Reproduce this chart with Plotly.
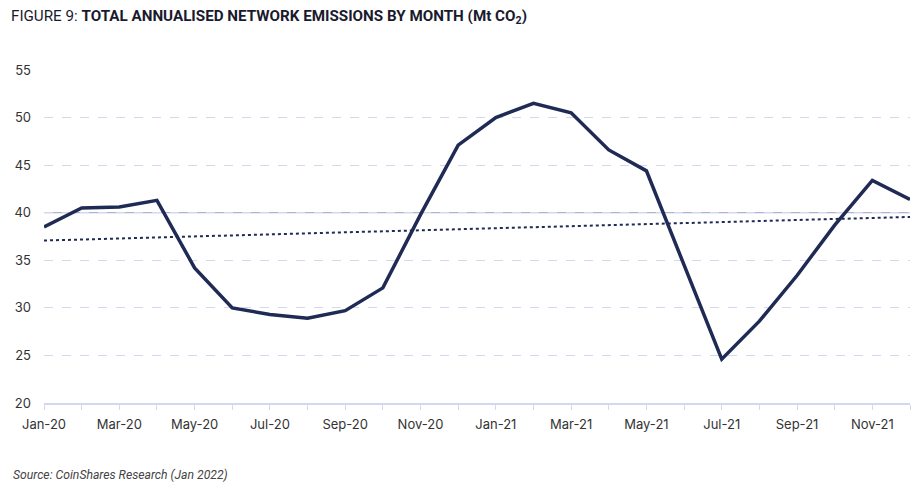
import numpy as np
import plotly.graph_objects as go

months = ["Jan-20","Feb-20","Mar-20","Apr-20","May-20","Jun-20","Jul-20","Aug-20","Sep-20","Oct-20","Nov-20","Dec-20",
          "Jan-21","Feb-21","Mar-21","Apr-21","May-21","Jun-21","Jul-21","Aug-21","Sep-21","Oct-21","Nov-21","Dec-21"]
emissions = [38.5, 40.5, 40.6, 41.3, 34.2, 30.0, 29.3, 28.9, 29.7, 32.1, 39.8, 47.1,
             50.0, 51.5, 50.5, 46.6, 44.4, 34.5, 24.6, 28.6, 33.4, 38.7, 43.4, 41.4]
tick_labels = ["Jan-20","Mar-20","May-20","Jul-20","Sep-20","Nov-20","Jan-21","Mar-21","May-21","Jul-21","Sep-21","Nov-21"]
y_ticks = [20, 25, 30, 35, 40, 45, 50, 55]

idx = np.arange(len(months))
slope, intercept = np.polyfit(idx, emissions, 1)
trend = list(intercept + slope * idx)

navy = "#1f2a55"
grid = "#d3d7f0"

fig = go.Figure()
fig.add_trace(go.Scatter(x=months, y=trend, mode="lines",
                         line=dict(color=navy, width=2, dash="dot"), hoverinfo="skip"))
fig.add_trace(go.Scatter(x=months, y=emissions, mode="lines",
                         line=dict(color=navy, width=3.5)))

fig.add_shape(type="line", xref="paper", x0=0, x1=1, yref="y", y0=40, y1=40,
              line=dict(color="#9aa1c4", width=1), layer="below")

fig.update_layout(
    width=924, height=492,
    margin=dict(l=44, r=14, t=70, b=89),
    paper_bgcolor="white", plot_bgcolor="white",
    showlegend=False,
    font=dict(family="Inter", size=13, color="#333333"),
    xaxis=dict(type="category", categoryorder="array", categoryarray=months,
               range=[0, len(months) - 1],
               tickmode="array", tickvals=months,
               ticktext=[m if m in tick_labels else " " for m in months],
               showgrid=False, showline=True, linecolor=grid, linewidth=1.5,
               ticks="outside", ticklen=5, tickcolor=grid, ticklabelstandoff=4,
               tickfont=dict(family="Inter", size=13, color="#333333")),
    yaxis=dict(range=[20, 55], tickvals=y_ticks, showgrid=True, gridcolor=grid,
               griddash="dash", gridwidth=1, zeroline=False, showline=False,
               ticklabelstandoff=12,
               tickfont=dict(family="Inter", size=13, color="#333333")),
    annotations=[
        dict(text="FIGURE 9: <b>TOTAL ANNUALISED NETWORK EMISSIONS BY MONTH (Mt CO<sub>2</sub>)</b>",
             xref="paper", yref="paper", x=0, y=1, xshift=-35, yshift=53,
             xanchor="left", yanchor="middle", showarrow=False,
             font=dict(family="Roboto", size=15.2, color="#1a1a2e")),
        dict(text="<i>Source: CoinShares Research (Jan 2022)</i>",
             xref="paper", yref="paper", x=0, y=0, xshift=-33, yshift=-72,
             xanchor="left", yanchor="middle", showarrow=False,
             font=dict(family="Roboto", size=12.2, color="#444444")),
    ],
)

fig.write_html("out.html", config={"displayModeBar": False},
               post_script="document.body.style.margin='0';")
